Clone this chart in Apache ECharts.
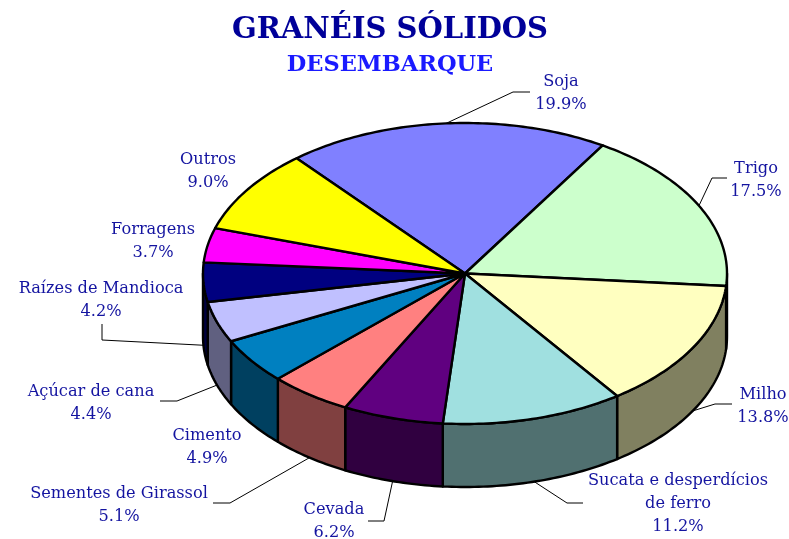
<!DOCTYPE html>
<html>
<head>
<meta charset="utf-8">
<style>
  html, body { margin: 0; padding: 0; background: #fff; }
  #chart { width: 789px; height: 539px; }
</style>
</head>
<body>
<div id="chart"></div>
<script src="https://cdn.jsdelivr.net/npm/echarts@6/dist/echarts.min.js"></script>
<script>
const categories = ['Soja', 'Trigo', 'Milho', 'Sucata e desperdícios\nde ferro', 'Cevada', 'Sementes de Girassol',
  'Cimento', 'Açúcar de cana', 'Raízes de Mandioca', 'Forragens', 'Outros']
const shares = [19.9, 17.5, 13.8, 11.2, 6.2, 5.1, 4.9, 4.4, 4.2, 3.7, 9.0]
const colors = ['#8080ff', '#ccffcc', '#ffffc0', '#a0e0e0', '#600080', '#ff8080',
  '#0080c0', '#c0c0ff', '#000080', '#ff00ff', '#ffff00']

// layout of the tilted pie
const cx = 465
const cy = 273.5
const rx = 262
const ry = 150.5
const depth = 63
const startAngle = -40

// label centres and leader elbows, same order as categories
const labelPos = [[561, 93], [756, 180], [763, 406], [678, 504], [334, 521], [119, 505],
  [207, 447], [91, 403], [101, 300], [153, 241], [208, 171]]
const leaders = [
  [[513, 92], [530, 92]],
  [[712, 178], [727, 178]],
  [[715, 404], [732, 404]],
  [[567, 503], [583, 503]],
  [[384, 521], [368, 521]],
  [[230, 503], [213, 503]],
  null,
  [[177, 401], [160, 401]],
  [[102, 340], [102, 324]],
  null,
  null
]

const total = shares.reduce((a, b) => a + b, 0)

function sliceRange(i) {
  let a = startAngle
  for (let k = 0; k < i; k++) a += shares[k] / total * 360
  return [a, a + shares[i] / total * 360]
}

function rim(deg, drop) {
  const t = deg * Math.PI / 180
  return [cx + rx * Math.sin(t), cy - ry * Math.cos(t) + (drop || 0)]
}

function arc(a, b, drop) {
  const pts = []
  const n = Math.max(2, Math.ceil(Math.abs(b - a)))
  for (let k = 0; k <= n; k++) pts.push(rim(a + (b - a) * k / n, drop))
  return pts
}

function darken(hex) {
  const n = parseInt(hex.slice(1), 16)
  const c = [n >> 16, (n >> 8) & 255, n & 255].map(v => Math.round(v / 2))
  return 'rgb(' + c.join(',') + ')'
}

function renderSlice(params) {
  const i = params.dataIndex
  const [a, b] = sliceRange(i)
  const children = []

  // side wall, only the front half of the rim shows (90..270 deg)
  const ranges = [[Math.max(a, 90), Math.min(b, 270)], [Math.max(a, -270), Math.min(b, -90)]]
  ranges.forEach(([s, e]) => {
    if (e <= s) return
    const top = arc(s, e, 0)
    const bottom = arc(e, s, depth)
    children.push({
      type: 'polygon',
      z2: 1,
      shape: { points: top.concat(bottom) },
      style: { fill: darken(colors[i]), stroke: '#000', lineWidth: 2.4, lineJoin: 'round' }
    })
  })

  // top wedge
  children.push({
    type: 'polygon',
    z2: 2,
    shape: { points: [[cx, cy]].concat(arc(a, b, 0)) },
    style: { fill: colors[i], stroke: '#000', lineWidth: 2.4, lineJoin: 'round' }
  })

  // leader line from the middle of the slice rim
  if (leaders[i]) {
    const mid = (a + b) / 2
    const norm = ((mid % 360) + 360) % 360
    const start = rim(mid, norm > 90 && norm < 270 ? depth : 0)
    children.push({
      type: 'polyline',
      z2: 0,
      shape: { points: [start].concat(leaders[i]) },
      style: { fill: null, stroke: '#000', lineWidth: 1 }
    })
  }

  children.push({
    type: 'text',
    z2: 3,
    x: labelPos[i][0],
    y: labelPos[i][1],
    style: {
      text: categories[i] + '\n' + shares[i].toFixed(1) + '%',
      fill: '#1414a0',
      font: '16.2px "DejaVu Serif"',
      lineHeight: 23,
      align: 'center',
      verticalAlign: 'middle'
    }
  })
  return { type: 'group', children: children }
}

const chart = echarts.init(document.getElementById('chart'))
chart.setOption({
  animation: false,
  backgroundColor: '#fff',
  title: [
    {
      text: 'GRANÉIS SÓLIDOS',
      left: 385,
      top: 11,
      textAlign: 'center',
      textStyle: { color: '#000099', fontFamily: 'DejaVu Serif', fontWeight: 'bold', fontSize: 29 }
    },
    {
      text: 'DESEMBARQUE',
      left: 385,
      top: 49,
      textAlign: 'center',
      textStyle: { color: '#1a1aff', fontFamily: 'DejaVu Serif', fontWeight: 'bold', fontSize: 22.5 }
    }
  ],
  series: [
    {
      type: 'custom',
      coordinateSystem: 'none',
      silent: true,
      renderItem: renderSlice,
      data: shares
    }
  ]
})
</script>
</body>
</html>
